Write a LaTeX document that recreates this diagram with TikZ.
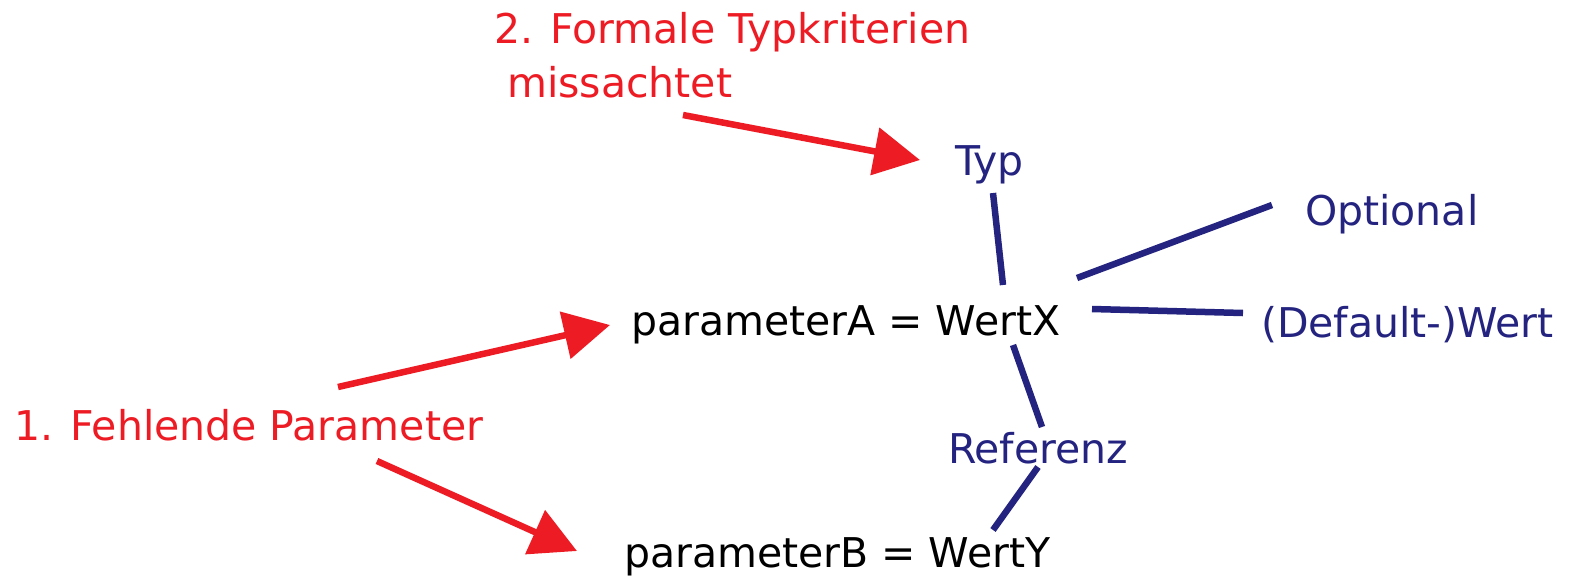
\documentclass[tikz,border=0pt]{standalone}
\usepackage{fontspec}
\setmainfont{DejaVu Sans}
\usetikzlibrary{arrows.meta}
\definecolor{errred}{RGB}{237,28,36}
\definecolor{navy}{RGB}{36,36,128}
\begin{document}
\begin{tikzpicture}[x=1pt,y=-1pt,
  txt/.style={anchor=base west,inner sep=0pt,outer sep=0pt,
    font=\fontsize{41}{54}\selectfont},
  note/.style={txt,text=errred},
  attr/.style={txt,text=navy},
  link/.style={draw=navy,line width=6.5pt},
  hint/.style={draw=errred,line width=6.5pt,-{Triangle[length=46pt,width=47pt]}}]
\useasboundingbox (0,0) rectangle (1571,576);

% texts (the two-line note is anchored on its last baseline)
\node[note,align=left] (crit) at (494,97) {2. Formale Typkriterien\\\hspace*{0.32em}missachtet};
\node[note] (miss) at (14,440) {1. Fehlende Parameter};
\node[txt] (pA) at (631,335) {parameterA = WertX};
\node[txt] (pB) at (624,567) {parameterB = WertY};
\node[attr] (typ) at (955,175) {Typ};
\node[attr] (opt) at (1305,225) {Optional};
\node[attr] (def) at (1261,337) {(Default-)Wert};
\node[attr] (ref) at (948,463) {Referenz};

% connector end points
\coordinate (pA-typ) at (1003,285);
\coordinate (typ-pA) at (993,193);
\coordinate (pA-opt) at (1077,278);
\coordinate (opt-pA) at (1272,205);
\coordinate (pA-def) at (1092,309);
\coordinate (def-pA) at (1243,313);
\coordinate (pA-ref) at (1013,345);
\coordinate (ref-pA) at (1042,427);
\coordinate (ref-pB) at (1038,467);
\coordinate (pB-ref) at (993,530);
\coordinate (crit-out) at (683,115);
\coordinate (typ-in) at (920,160);
\coordinate (miss-up) at (338,387);
\coordinate (pA-in) at (610,325);
\coordinate (miss-down) at (377,461);
\coordinate (pB-in) at (577,551);

% attribute links
\draw[link] (pA-typ) -- (typ-pA);
\draw[link] (pA-opt) -- (opt-pA);
\draw[link] (pA-def) -- (def-pA);
\draw[link] (pA-ref) -- (ref-pA);
\draw[link] (ref-pB) -- (pB-ref);

% error hints
\draw[hint] (crit-out) -- (typ-in);
\draw[hint] (miss-up) -- (pA-in);
\draw[hint] (miss-down) -- (pB-in);
\end{tikzpicture}
\end{document}
